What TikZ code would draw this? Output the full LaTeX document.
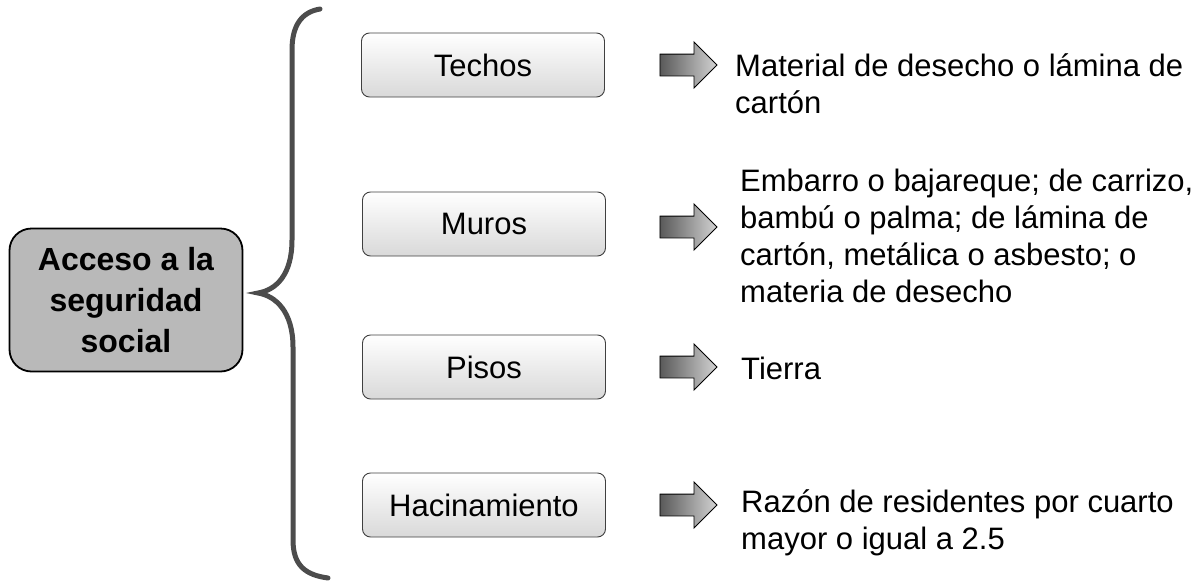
\documentclass[tikz,border=0pt]{standalone}
\usepackage{fontspec}
\setmainfont{Liberation Sans}
\usetikzlibrary{shapes.arrows}
\begin{document}
\begin{tikzpicture}[x=1pt,y=-1pt,
  mainbox/.style={draw=black, line width=1.8pt, fill=gray!55, rounded corners=22pt,
    minimum width=233pt, minimum height=143pt, inner sep=0pt, align=center,
    font=\fontsize{32}{41}\selectfont\bfseries},
  catbox/.style={draw=black!75, line width=0.9pt, rounded corners=8pt,
    top color=white, bottom color=gray!30,
    minimum width=243pt, minimum height=64pt, inner sep=0pt,
    font=\fontsize{31}{36}\selectfont},
  fatarrow/.style={single arrow, draw=black, line width=0.9pt, left color=black!65, right color=gray!35,
    minimum height=57pt, inner sep=10.5pt, single arrow head extend=12pt,
    single arrow head indent=0pt},
  desc/.style={anchor=west, align=left, inner sep=0pt,
    font=\fontsize{31}{37}\selectfont},
  bracestyle/.style={draw=black!70, line width=5pt, line cap=round}
]
\useasboundingbox (0,0) rectangle (1203,584);

\node[mainbox] (main) at (126,300) {Acceso a la\\seguridad\\social};

% brace
\coordinate (btop) at (320,9);
\coordinate (btip) at (258,293);
\coordinate (bbot) at (328,578);
\draw[bracestyle] (btop) .. controls (302,12) and (292,25) .. (292,50)
  -- (292,240) .. controls (292,275) and (276,290) .. (btip)
  .. controls (276,296) and (293,312) .. (293,347)
  -- (293,540) .. controls (293,566) and (306,575) .. (bbot);

\node[catbox] (techos) at (483,65) {Techos};
\node[catbox] (muros) at (484,224) {Muros};
\node[catbox] (pisos) at (484,367) {Pisos};
\node[catbox] (hacin) at (484,505) {Hacinamiento};

\node[fatarrow] (a1) at (683,65) {};
\node[fatarrow] (a2) at (683,227) {};
\node[fatarrow] (a3) at (683,367) {};
\node[fatarrow] (a4) at (683,505) {};

\node[desc] (d1) at (735,84) {Material de desecho o lámina de\\cartón};
\node[desc] (d2) at (740,236) {Embarro o bajareque; de carrizo,\\bambú o palma; de lámina de\\cartón, metálica o asbesto; o\\materia de desecho};
\node[desc] (d3) at (741,368) {Tierra};
\node[desc] (d4) at (741,523) {Razón de residentes por cuarto\\mayor o igual a 2.5};
\end{tikzpicture}
\end{document}
